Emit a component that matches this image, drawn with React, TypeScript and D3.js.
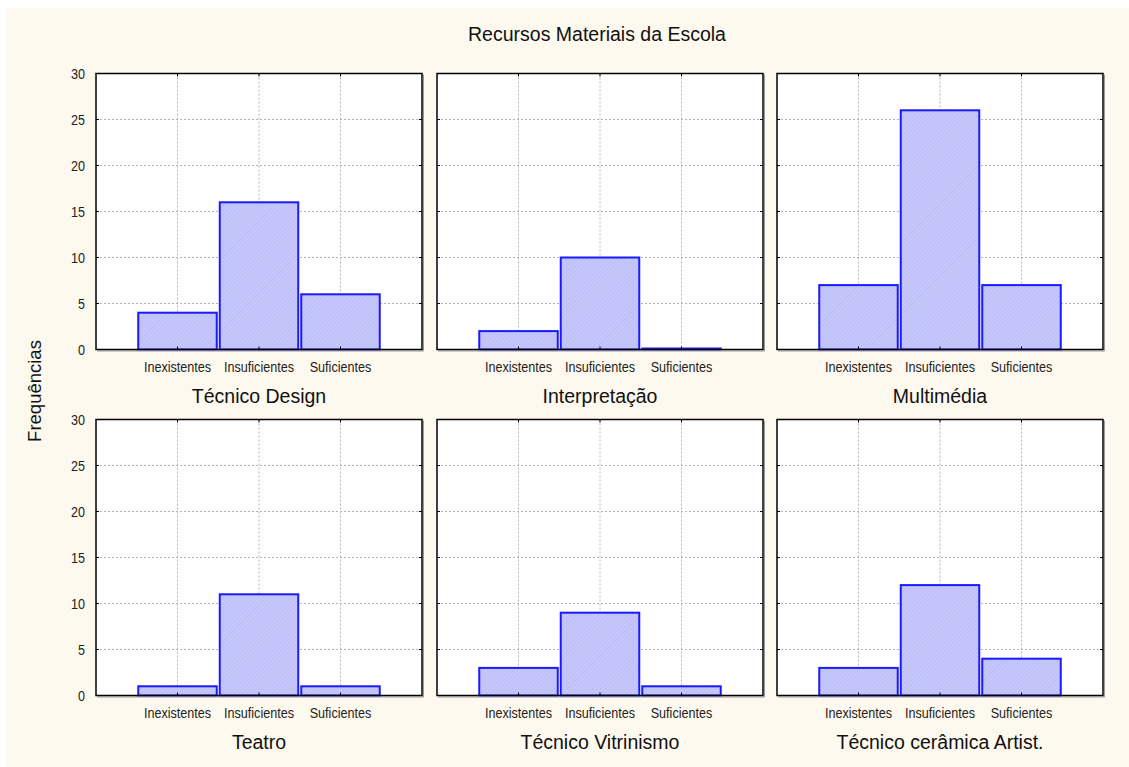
import React from "react";
import * as d3 from "d3";

const categories = ["Inexistentes", "Insuficientes", "Suficientes"];
const panelTitles = [
  "Técnico Design",
  "Interpretação",
  "Multimédia",
  "Teatro",
  "Técnico Vitrinismo",
  "Técnico cerâmica Artist.",
];
const valuesTecnicoDesign = [4, 16, 6];
const valuesInterpretacao = [2, 10, 0];
const valuesMultimedia = [7, 26, 7];
const valuesTeatro = [1, 11, 1];
const valuesVitrinismo = [3, 9, 1];
const valuesCeramica = [3, 12, 4];
const yTicks = [0, 5, 10, 15, 20, 25, 30];
const mainTitle = "Recursos Materiais da Escola";
const yAxisTitle = "Frequências";

const panelValues = [
  valuesTecnicoDesign,
  valuesInterpretacao,
  valuesMultimedia,
  valuesTeatro,
  valuesVitrinismo,
  valuesCeramica,
];

const W = 1129;
const H = 767;
const colLefts = [96, 437, 777];
const panelW = 326;
const rowTops = [73.5, 419.5];
const panelH = 276;

const sans = "'Liberation Sans', Arial, sans-serif";
const squeeze = 0.84;

function Panel({ idx }: { idx: number }) {
  const col = idx % 3;
  const row = Math.floor(idx / 3);
  const x0 = colLefts[col];
  const y0 = rowTops[row];
  const values = panelValues[idx];
  const x = d3
    .scalePoint<string>()
    .domain(categories)
    .range([0, panelW])
    .padding(1);
  const step = x.step();
  const barW = step - 3;
  const y = d3.scaleLinear().domain([0, 30]).range([panelH, 0]);
  return (
    <g transform={`translate(${x0},${y0})`}>
      <rect x={0} y={0} width={panelW} height={panelH} fill="#ffffff" />
      {yTicks.slice(1, -1).map((t) => (
        <line
          key={"gy" + t}
          x1={0}
          x2={panelW}
          y1={y(t)}
          y2={y(t)}
          stroke="#b4b4b4"
          strokeWidth={1}
          strokeDasharray="2,2"
        />
      ))}
      {categories.map((c) => (
        <line
          key={"gx" + c}
          x1={x(c)}
          x2={x(c)}
          y1={0}
          y2={panelH}
          stroke="#b4b4b4"
          strokeWidth={1}
          strokeDasharray="2,2"
        />
      ))}
      {categories.map((c, i) => {
        const top = y(values[i]);
        const h = Math.max(panelH - top, 1);
        return (
          <rect
            key={"b" + c}
            x={(x(c) as number) - barW / 2}
            y={panelH - h}
            width={barW}
            height={h}
            fill="url(#hatch)"
            stroke="#1a1aff"
            strokeWidth={2}
          />
        );
      })}
      {categories.map((c) => (
        <g key={"tm" + c}>
          <line x1={x(c)} x2={x(c)} y1={panelH} y2={panelH - 3} stroke="#000" />
          <line x1={x(c)} x2={x(c)} y1={0} y2={3} stroke="#000" />
        </g>
      ))}
      {yTicks.map((t) => (
        <g key={"ty" + t}>
          <line x1={0} x2={3} y1={y(t)} y2={y(t)} stroke="#000" />
          <line x1={panelW} x2={panelW - 3} y1={y(t)} y2={y(t)} stroke="#000" />
        </g>
      ))}
      <line x1={panelW + 1.5} x2={panelW + 1.5} y1={1} y2={panelH + 1.5} stroke="#9a9a9a" strokeWidth={1} />
      <line x1={1} x2={panelW + 1.5} y1={panelH + 1.5} y2={panelH + 1.5} stroke="#9a9a9a" strokeWidth={1} />
      <rect x={0} y={0} width={panelW} height={panelH} fill="none" stroke="#000" strokeWidth={1.5} />
      {col === 0 &&
        yTicks.map((t) => (
          <text
            key={"yl" + t}
            transform={`translate(-11,${y(t)}) scale(${squeeze},1)`}
            dy="0.35em"
            textAnchor="end"
            fontFamily={sans}
            fontSize={15}
            fill="#222"
          >
            {t}
          </text>
        ))}
      {categories.map((c) => (
        <text
          key={"xl" + c}
          transform={`translate(${x(c)},${panelH + 22}) scale(${squeeze},1)`}
          textAnchor="middle"
          fontFamily={sans}
          fontSize={15}
          fill="#222"
        >
          {c}
        </text>
      ))}
      <text
        x={panelW / 2}
        y={panelH + 53}
        textAnchor="middle"
        fontFamily={sans}
        fontSize={19.5}
        fill="#111"
      >
        {panelTitles[idx]}
      </text>
    </g>
  );
}

export default function App() {
  return (
    <svg
      width={W}
      height={H}
      style={{ position: "absolute", left: 0, top: 0, display: "block" }}
    >
      <defs>
        <pattern id="hatch" width={3} height={3} patternUnits="userSpaceOnUse" patternTransform="rotate(45)">
          <rect width={3} height={3} fill="#c6c8fb" />
          <line x1={0} y1={0} x2={0} y2={3} stroke="#aeb0f0" strokeWidth={1} />
        </pattern>
      </defs>
      <rect x={0} y={0} width={W} height={H} fill="#ffffff" />
      <rect x={6} y={8} width={W - 6} height={H - 8} fill="#fef9ee" />
      <text
        x={597}
        y={41}
        textAnchor="middle"
        fontFamily={sans}
        fontSize={19.5}
        fill="#111"
      >
        {mainTitle}
      </text>
      <text
        transform={`translate(41,391) rotate(-90)`}
        textAnchor="middle"
        fontFamily={sans}
        fontSize={18.5}
        fill="#111"
      >
        {yAxisTitle}
      </text>
      {panelTitles.map((_, i) => (
        <Panel key={i} idx={i} />
      ))}
    </svg>
  );
}
